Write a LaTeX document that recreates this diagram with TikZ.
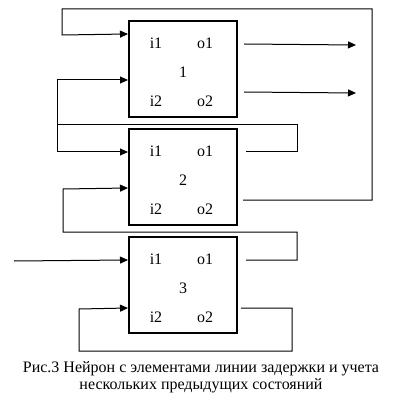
\documentclass[tikz,border=0pt]{standalone}
\usepackage{fontspec}
\setmainfont{Liberation Serif}
\usetikzlibrary{positioning}
\usetikzlibrary{calc}
\usetikzlibrary{arrows.meta}

\tikzset{
    cell/.style={draw, line width=2pt, inner sep=0pt, minimum width=108pt, minimum height=96pt},
    port/.style={font=\fontsize{16}{18}\selectfont, inner sep=0pt},
    wire/.style={line width=1pt},
    feed/.style={wire, -{Triangle[length=8pt,width=7pt]}}
}

\begin{document}
\begin{tikzpicture}[x=1pt,y=-1pt]
    \useasboundingbox (0,0) rectangle (403,403);
    \node[cell] (n1) at (183,69) {};
    \node[cell, below=10pt of n1] (n2) {};
    \node[cell, below=10pt of n2] (n3) {};

    \foreach \n in {1,2,3} {
        \node[port] (n\n a) at ($(n\n.north west)+(28,23)$) {i1};
        \node[port] (n\n b) at ($(n\n.north west)+(77,23)$) {o1};
        \node[port] (n\n c) at ($(n\n.north west)+(55,52)$) {\n};
        \node[port] (n\n d) at ($(n\n.north west)+(28,81)$) {i2};
        \node[port] (n\n e) at ($(n\n.north west)+(77,81)$) {o2};
    }

    % inputs on the left edge
    \coordinate (n1i1) at ($(n1.north west)+(0,14)$);
    \coordinate (n1i2) at ($(n1.north west)+(0,60)$);
    \coordinate (n2i1) at ($(n2.north west)+(0,24)$);
    \coordinate (n2i2) at ($(n2.north west)+(0,60)$);
    \coordinate (n3i1) at ($(n3.north west)+(0,24)$);
    \coordinate (n3i2) at ($(n3.north west)+(0,72)$);
    % outputs beside the right edge
    \coordinate (n1o1) at ($(n1.north east)+(6,24)$);
    \coordinate (n1o2) at ($(n1.north east)+(6,72)$);
    \coordinate (n2o1) at ($(n2.north east)+(8,24)$);
    \coordinate (n2o2) at ($(n2.north east)+(5,72)$);
    \coordinate (n3o1) at ($(n3.north east)+(8,24)$);
    \coordinate (n3o2) at ($(n3.north east)+(3,72)$);
    % free ends
    \coordinate (y1) at (356,45);
    \coordinate (y2) at (356,93);
    \coordinate (x1) at (14,261);
    \coordinate (split) at (57,125);

    \draw[feed] (n1o1) -- (y1);
    \draw[feed] (n1o2) -- (y2);
    \draw[feed] (n2o2) -| (372,9) -| (62,35) -- (n1i1);
    \draw[feed] (n2o1) -| (297,125) -- (split) |- (n2i1);
    \draw[feed] (split) |- (n1i2);
    \draw[feed] (n3o1) -| (297,232) -| (63,189) -- (n2i2);
    \draw[feed] (x1) -- (n3i1);
    \draw[feed] (n3o2) -| (292,351) -| (79,309) -- (n3i2);

    \node[font=\fontsize{16}{17.5}\selectfont, align=center, inner sep=0pt] (cap) at (201,377)
        {Рис.3 Нейрон с элементами линии задержки и учета\\нескольких предыдущих состояний};
\end{tikzpicture}
\end{document}
